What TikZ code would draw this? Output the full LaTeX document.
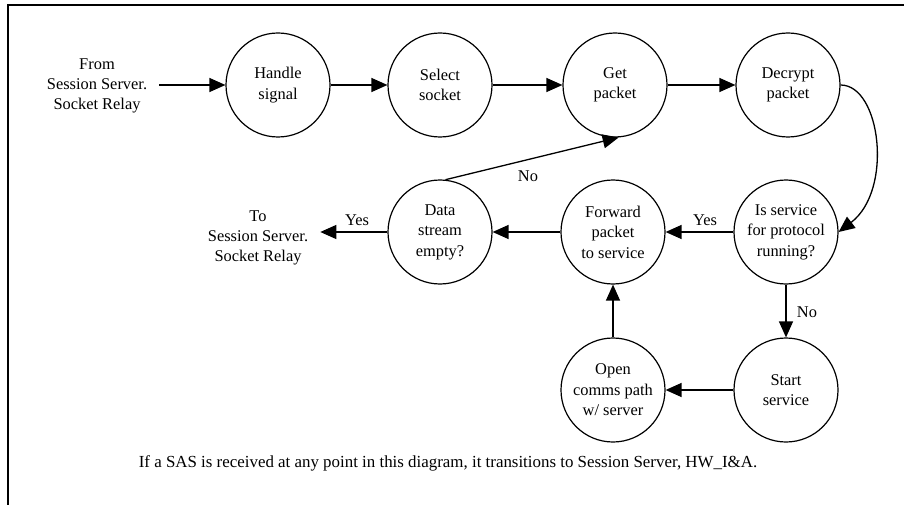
\documentclass[tikz,border=0pt]{standalone}
\usepackage{fontspec}
\setmainfont{Liberation Serif}
\usetikzlibrary{arrows.meta}
\begin{document}
\begin{tikzpicture}[x=1pt,y=-1pt,
  state/.style={circle,draw,line width=1.2pt,minimum size=104pt,inner sep=0pt,align=center,font=\fontsize{16.4}{20.5}\selectfont},
  lbl/.style={align=center,inner sep=0pt,font=\fontsize{16.4}{20}\selectfont},
  flow/.style={line width=1.3pt,-{Triangle[length=16pt,width=14pt]}},
  frame/.style={line width=2pt}
]
\useasboundingbox (0,0) rectangle (904,505);
\draw[frame] (8,505) -- (8,5.5) -- (904,5.5);
% states
\node[state] (hs) at (278,85) {Handle\\signal};
\node[state] (ss) at (440,85) {Select\\socket};
\node[state] (gp) at (615,85) {Get\\packet};
\node[state] (dp) at (788,85) {Decrypt\\packet};
\node[state] (is) at (786,232) {Is service\\for protocol\\running?};
\node[state] (fp) at (613,232) {Forward\\packet\\to service};
\node[state] (ds) at (440,232) {Data\\stream\\empty?};
\node[state] (oc) at (613,390) {Open\\comms path\\w/ server};
\node[state] (st) at (786,390) {Start\\service};
% terminals
\node[lbl] (from) at (97,86) {From\\Session Server.\\Socket Relay};
\node[lbl] (to) at (258,238) {To\\Session Server.\\Socket Relay};
% connectors
\draw[flow,shorten <=12pt] (from.east |- hs.west) -- (hs.west);
\draw[flow] (hs) -- (ss);
\draw[flow] (ss) -- (gp);
\draw[flow] (gp) -- (dp);
\draw[flow] (dp.east) .. controls +(40,0) and +(55,-42) .. (is.east);
\draw[flow] (is) -- (fp);
\draw[flow] (fp) -- (ds);
\draw[flow,shorten >=12pt] (ds.west) -- (to.east |- ds.west);
\draw[flow] (ds.84) -- (gp.-86);
\draw[flow] (is) -- (st);
\draw[flow] (st) -- (oc);
\draw[flow] (oc) -- (fp);
% labels
\node[lbl] (no1) at (528,176) {No};
\node[lbl] (yes1) at (357,220) {Yes};
\node[lbl] (yes2) at (705,220) {Yes};
\node[lbl] (no2) at (807,312) {No};
\node[lbl,font=\fontsize{16.9}{20}\selectfont] (note) at (448,463) {If a SAS is received at any point in this diagram, it transitions to Session Server, HW\_I\&A.};
\end{tikzpicture}
\end{document}
